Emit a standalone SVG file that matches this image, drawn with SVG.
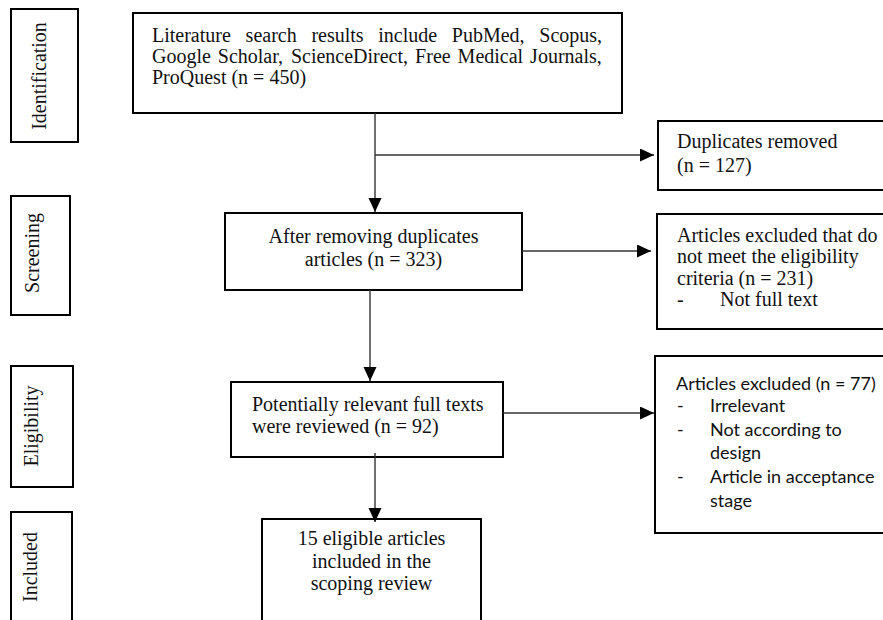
<svg xmlns="http://www.w3.org/2000/svg" width="883" height="620" viewBox="0 0 883 620">
<style>
.box{fill:#fff;stroke:#000;stroke-width:2}
.t{font-family:"Liberation Serif","Times New Roman",serif;font-size:20px;fill:#111}
.s{font-family:Lato,"Open Sans",sans-serif;font-size:18px;fill:#111}
.c{text-anchor:middle}
.ln{stroke:#333;stroke-width:1.4;fill:none}
</style>
<defs>
<marker id="ah" markerUnits="userSpaceOnUse" markerWidth="15" markerHeight="14" refX="14" refY="6.5" orient="auto">
<path d="M0,0 L14,6.5 L0,13 z" fill="#000"/>
</marker>
</defs>
<rect width="883" height="620" fill="#fff"/>

<g id="stage-identification">
<rect class="box" x="11" y="9" width="67" height="133"/>
<text class="t c" transform="translate(46,76) rotate(-90)">Identification</text>
</g>
<g id="stage-screening">
<rect class="box" x="11" y="196" width="59" height="119"/>
<text class="t c" transform="translate(39,253) rotate(-90)">Screening</text>
</g>
<g id="stage-eligibility">
<rect class="box" x="11" y="366" width="62" height="121"/>
<text class="t c" transform="translate(38,426) rotate(-90)">Eligibility</text>
</g>
<g id="stage-included">
<rect class="box" x="11" y="512" width="61" height="120"/>
<text class="t c" transform="translate(37,567) rotate(-90)">Included</text>
</g>

<g id="search">
<rect class="box" x="133" y="13" width="489" height="100"/>
<text class="t" y="42"><tspan x="152">Literature</tspan><tspan x="245.6">search</tspan><tspan x="311.4">results</tspan><tspan x="378.3">include</tspan><tspan x="451.8">PubMed,</tspan><tspan x="539.3">Scopus,</tspan></text>
<text class="t" y="63"><tspan x="152">Google</tspan><tspan x="217.8">Scholar,</tspan><tspan x="290.9">ScienceDirect,</tspan><tspan x="415.1">Free</tspan><tspan x="457.6">Medical</tspan><tspan x="530.1">Journals,</tspan></text>
<text class="t" x="152" y="84">ProQuest (n = 450)</text>
</g>

<g id="duplicates">
<rect class="box" x="658" y="121" width="240" height="69"/>
<text class="t" x="677" y="148">Duplicates removed</text>
<text class="t" x="677" y="172">(n = 127)</text>
</g>

<g id="screened">
<rect class="box" x="225" y="213" width="297" height="77"/>
<text class="t c" x="373.5" y="243">After removing duplicates</text>
<text class="t c" x="373.5" y="266">articles (n = 323)</text>
</g>

<g id="excluded-screening">
<rect class="box" x="657" y="214" width="240" height="115"/>
<text class="t" x="677" y="242">Articles excluded that do</text>
<text class="t" x="677" y="263">not meet the eligibility</text>
<text class="t" x="677" y="285">criteria (n = 231)</text>
<text class="t" y="306"><tspan x="677">-</tspan><tspan x="720">Not full text</tspan></text>
</g>

<g id="fulltext">
<rect class="box" x="231" y="382" width="272" height="75"/>
<text class="t" x="252" y="411">Potentially relevant full texts</text>
<text class="t" x="252" y="433">were reviewed (n = 92)</text>
</g>

<g id="excluded-eligibility">
<rect class="box" x="655" y="356" width="240" height="177"/>
<text class="s" x="676" y="390">Articles excluded (n = 77)</text>
<text class="s" y="412"><tspan x="677">-</tspan><tspan x="710">Irrelevant</tspan></text>
<text class="s" y="436"><tspan x="677">-</tspan><tspan x="710">Not according to</tspan></text>
<text class="s" x="710" y="459">design</text>
<text class="s" y="483"><tspan x="677">-</tspan><tspan x="710">Article in acceptance</tspan></text>
<text class="s" x="710" y="507">stage</text>
</g>

<g id="included">
<rect class="box" x="262" y="519" width="219" height="120"/>
<text class="t c" x="371.5" y="545">15 eligible articles</text>
<text class="t c" x="371.5" y="568">included in the</text>
<text class="t c" x="371.5" y="590">scoping review</text>
</g>

<g id="connectors">
<path class="ln" d="M375,113 V212" marker-end="url(#ah)"/>
<path class="ln" d="M375,155 H654" marker-end="url(#ah)"/>
<path class="ln" d="M522,251 H651" marker-end="url(#ah)"/>
<path class="ln" d="M370,290 V381" marker-end="url(#ah)"/>
<path class="ln" d="M503,413 H654" marker-end="url(#ah)"/>
<path class="ln" d="M375,453 V522" marker-end="url(#ah)"/>
</g>
</svg>
